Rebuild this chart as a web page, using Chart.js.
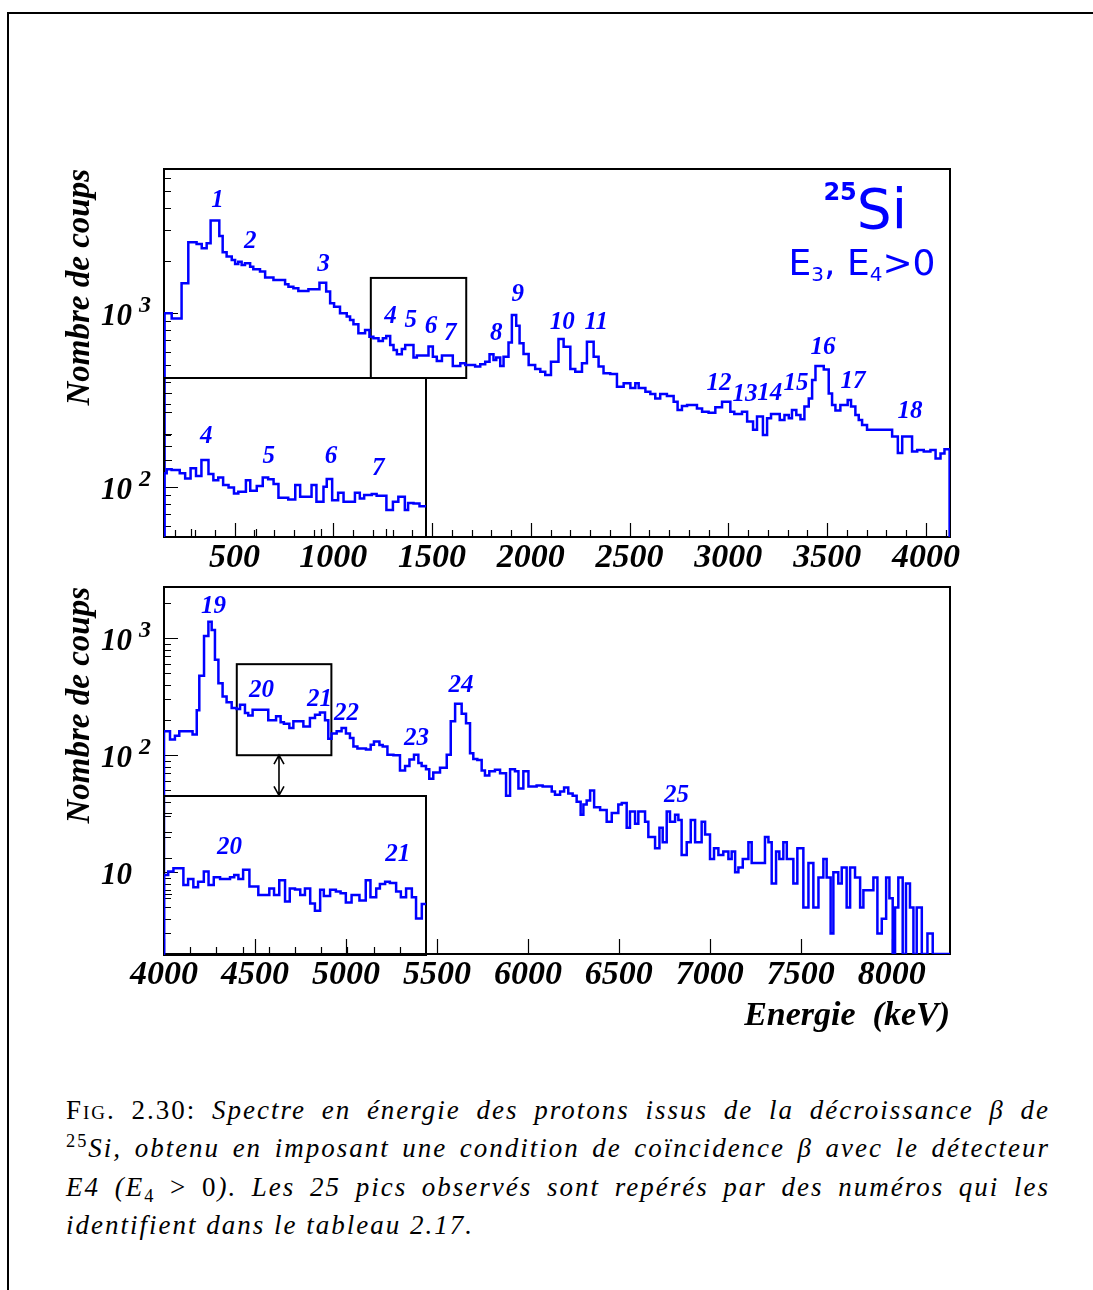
<!DOCTYPE html>
<html>
<head>
<meta charset="utf-8">
<title>Spectre en energie des protons - 25Si</title>
<script src="https://cdn.jsdelivr.net/npm/chart.js@4.4.1/dist/chart.umd.min.js"></script>
<style>
  html, body { margin: 0; padding: 0; background: #fff; }
  body { position: relative; width: 1093px; height: 1290px; overflow: hidden; }
  canvas { position: absolute; }
  #page { position: absolute; left: 7px; top: 12px; width: 1200px; height: 1400px;
          border-left: 2px solid #000; border-top: 2px solid #000; }
  .iso { position: absolute; color: #0000ff; font-family: 'DejaVu Sans', sans-serif;
         text-align: right; white-space: nowrap; }
  .iso span { line-height: 0; }
  #caption { position: absolute; left: 66px; top: 1091px; width: 984px; color: #000;
             font-family: 'Liberation Serif', 'Times New Roman', serif; font-size: 27px; line-height: 38.4px; letter-spacing: 2px; }
  #caption div { height: 38.4px; }
  #caption .j { text-align: justify; text-align-last: justify; }
  #caption sup, #caption sub { line-height: 0; font-size: 68%; }
  .sc { font-variant: small-caps; }
</style>
</head>
<body>
<div id="page"></div>

<canvas id="topChart" style="left:0;top:150px" width="1093" height="420"></canvas>
<canvas id="botChart" style="left:0;top:570px" width="1093" height="480"></canvas>
<canvas id="topInset" style="left:160px;top:374px" width="270" height="167"></canvas>
<canvas id="botInset" style="left:160px;top:792px" width="270" height="167"></canvas>

<div class="iso" style="left:780px;top:181.5px;width:127px;font-size:55px;line-height:55px;"><span style="font-size:24px;font-weight:bold;vertical-align:28px;">25</span>Si</div>
<div class="iso" style="left:700px;top:244.5px;width:235.5px;font-size:36px;line-height:36px;">E<span style="font-size:20px;vertical-align:-6px;">3</span>, E<span style="font-size:20px;vertical-align:-6px;">4</span>&gt;0</div>

<div id="caption">
  <div class="j"><span class="sc">Fig.</span> 2.30: <i>Spectre en énergie des protons issus de la décroissance β de</i></div>
  <div class="j"><sup>25</sup><i>Si, obtenu en imposant une condition de coïncidence β avec le détecteur</i></div>
  <div class="j"><i>E4 (E</i><sub>4</sub> &gt; 0<i>). Les 25 pics observés sont repérés par des numéros qui les</i></div>
  <div><i>identifient dans le tableau 2.17.</i></div>
</div>

<script>
// ---- top panel : bin start (keV) and counts ----
const topEdges = [146, 182, 232, 266, 308, 334, 359, 379, 423, 440, 460, 486, 503, 519, 536, 553, 579, 595, 629, 655,
  697, 756, 773, 798, 823, 874, 930, 964, 984, 1004, 1034, 1068, 1085, 1102, 1127, 1161, 1183, 1203, 1229, 1251,
  1268, 1288, 1305, 1322, 1347, 1364, 1406, 1423, 1482, 1504, 1524, 1550, 1605, 1643, 1668, 1718, 1744, 1769, 1791, 1811,
  1825, 1845, 1862, 1887, 1904, 1926, 1943, 1963, 1989, 2022, 2048, 2073, 2102, 2140, 2166, 2200, 2225, 2259, 2284, 2318,
  2343, 2368, 2402, 2436, 2470, 2504, 2529, 2546, 2580, 2605, 2630, 2655, 2689, 2723, 2743, 2765, 2791, 2841, 2867, 2900,
  2934, 2968, 3010, 3030, 3069, 3095, 3125, 3145, 3175, 3196, 3216, 3260, 3284, 3306, 3322, 3344, 3365, 3385, 3407, 3424,
  3441, 3483, 3508, 3525, 3542, 3567, 3604, 3621, 3643, 3660, 3677, 3702, 3829, 3858, 3880, 3930, 3956, 3989, 4023, 4049,
  4074, 4094];
const topCounts = [995, 931, 1483, 2549, 2493, 2354, 2513, 3394, 2773, 2233, 2109, 2017, 1914, 1972, 1888, 1930, 1846, 1782, 1729, 1597,
  1549, 1462, 1417, 1386, 1337, 1368, 1494, 1327, 1137, 1087, 995, 953, 912, 861, 764, 798, 731, 715, 690, 715,
  738, 655, 613, 579, 621, 655, 554, 569, 641, 561, 530, 569, 495, 514, 503, 492, 507, 525, 579, 537,
  554, 495, 561, 676, 973, 845, 670, 581, 503, 476, 460, 440, 525, 709, 640, 476, 460, 514, 684, 561,
  492, 450, 446, 377, 394, 370, 394, 370, 353, 342, 323, 342, 333, 309, 277, 292, 296, 283, 271, 267,
  287, 309, 271, 263, 271, 238, 213, 254, 199, 248, 263, 243, 259, 248, 277, 259, 245, 290, 323, 412,
  495, 474, 345, 296, 275, 296, 316, 290, 259, 243, 227, 213, 195, 157, 195, 160, 163, 160, 163, 146,
  156, 165];
const topEnd = 4120;

// zoom of 1190-1673 keV
const topInsetEdges = [1190, 1195, 1204, 1219, 1229, 1239, 1249, 1259, 1272, 1281, 1290, 1299, 1309, 1319, 1327, 1341,
  1349, 1361, 1372, 1382, 1392, 1401, 1419, 1432, 1441, 1462, 1471, 1484, 1490, 1500, 1511, 1521, 1542, 1551, 1559,
  1573, 1582, 1600, 1612, 1622, 1634, 1640, 1650, 1661];
const topInsetCounts = [719, 743, 739, 719, 689, 750, 703, 803, 715, 679, 695, 652, 639, 608, 617, 679,
  622, 647, 695, 684, 658, 587, 578, 652, 591, 652, 567, 643, 686, 575, 612, 567, 612, 583, 600,
  605, 596, 530, 567, 591, 530, 562, 559, 547];
const topInsetEnd = 1673;

// ---- bottom panel ----
const botEdges = [4000, 4033, 4060, 4084, 4157, 4180, 4194, 4220, 4244, 4262, 4280, 4299, 4322, 4344, 4372, 4399, 4418, 4445, 4463, 4487,
  4573, 4616, 4641, 4659, 4689, 4711, 4766, 4802, 4830, 4857, 4885, 4903, 4921, 4949, 4976, 5000, 5022, 5041, 5063, 5110,
  5136, 5154, 5184, 5202, 5228, 5261, 5297, 5325, 5349, 5374, 5398, 5416, 5440, 5458, 5480, 5517, 5554, 5576, 5600, 5636,
  5660, 5682, 5700, 5722, 5746, 5764, 5788, 5819, 5847, 5880, 5902, 5929, 5948, 5975, 6003, 6048, 6081, 6131, 6149, 6177,
  6199, 6222, 6246, 6268, 6290, 6305, 6323, 6342, 6364, 6397, 6433, 6461, 6497, 6516, 6543, 6561, 6589, 6607, 6644, 6662,
  6699, 6723, 6741, 6763, 6781, 6809, 6827, 6845, 6873, 6895, 6919, 6955, 6974, 7001, 7023, 7047, 7074, 7102, 7120, 7139,
  7157, 7181, 7212, 7230, 7303, 7322, 7340, 7364, 7382, 7404, 7423, 7459, 7481, 7514, 7542, 7569, 7597, 7624, 7642, 7664,
  7679, 7706, 7725, 7752, 7771, 7798, 7826, 7844, 7899, 7921, 7945, 7969, 7987, 8005, 8018, 8036, 8060, 8078, 8100, 8119,
  8137, 8165, 8196, 8225];
const botCounts = [160, 136, 147, 160, 150, 242, 477, 1046, 1386, 1177, 653, 413, 318, 283, 253, 248, 270, 229, 218, 245,
  199, 215, 191, 186, 171, 195, 176, 208, 222, 232, 199, 138, 153, 160, 171, 153, 140, 119, 114, 112,
  123, 131, 122, 119, 101, 100, 74, 81, 92, 101, 86, 81, 76, 63, 71, 78, 101, 195, 275, 226,
  188, 104, 93, 91, 74, 67, 73, 75, 70, 45, 76, 73, 52, 73, 54, 55, 54, 49, 46, 49,
  53, 47, 45, 40, 31, 38, 41, 50, 36, 34, 27, 32, 38, 39, 24, 33, 26, 33, 27, 20,
  16, 24, 18, 33, 27, 31, 28, 14, 18, 28, 18, 27, 21, 13, 16, 14, 15, 13, 15, 10,
  11, 13, 18, 12, 20, 18, 8, 15, 13, 18, 13, 8, 16, 5, 12, 5, 9, 13, 9, 3,
  10, 8, 11, 5, 11, 9, 5, 7, 9, 3, 4, 9, 6, 0, 5, 9, 0, 8, 5, 0,
  5, 0, 3, 0];
const botEnd = 8320;

// zoom of 4400-4900 keV
const botInsetEdges = [4400, 4408, 4418, 4437, 4446, 4456, 4465, 4476, 4485, 4495, 4507, 4526, 4534, 4542, 4551, 4563,
  4580, 4601, 4610, 4620, 4631, 4640, 4650, 4660, 4669, 4679, 4688, 4698, 4705, 4717, 4728, 4737, 4747, 4758,
  4773, 4785, 4794, 4805, 4812, 4822, 4831, 4843, 4852, 4862, 4873, 4881, 4892];
const botInsetCounts = [247, 257, 267, 221, 236, 215, 229, 257, 221, 241, 236, 241, 247, 236, 262, 217,
  197, 212, 197, 233, 183, 212, 210, 197, 212, 179, 165, 209, 195, 209, 205, 201, 181, 197,
  185, 233, 192, 212, 223, 229, 226, 205, 192, 212, 192, 151, 178];
const botInsetEnd = 4900;

// axis labels
const topXLabels = [500, 1000, 1500, 2000, 2500, 3000, 3500, 4000];
const botXLabels = [4000, 4500, 5000, 5500, 6000, 6500, 7000, 7500, 8000];
const topYLabels = [100, 1000];
const botYLabels = [10, 100, 1000];

// peak numbers (energy, counts at the label)
const topPeakIds = ['1', '2', '3', '4', '5', '6', '7', '8', '9', '10', '11', '12', '13', '14', '15', '16', '17', '18'];
const topPeakE = [414, 579, 951, 1290, 1392, 1495, 1592, 1825, 1934, 2159, 2331, 2952, 3084, 3210, 3342, 3479, 3631, 3920];
const topPeakC = [4406, 2559, 1888, 955, 899, 831, 757, 757, 1269, 877, 877, 394, 342, 344, 394, 630, 401, 270];
const topInsetPeakIds = ['4', '5', '6', '7'];
const topInsetPeakE = [1268, 1383, 1498, 1585];
const topInsetPeakC = [973, 830, 830, 748];
const botPeakIds = ['19', '20', '21', '22', '23', '24', '25'];
const botPeakE = [4272, 4536, 4855, 5003, 5388, 5632, 6817];
const botPeakC = [1866, 359, 298, 226, 140, 392, 45];
const botInsetPeakIds = ['20', '21'];
const botInsetPeakE = [4525, 4846];
const botInsetPeakC = [337, 313];

const BLUE = '#0000ff';
const SERIF = "'Liberation Serif', 'Times New Roman', serif";

// histogram outline: each bin is a flat step, empty bins sit on the axis floor
function hist(edges, counts, end, floor, dropAtEnd) {
  const pts = [{x: edges[0], y: floor}];
  counts.forEach((c, i) => {
    const v = c > 0 ? c : floor;
    const right = i + 1 < edges.length ? edges[i + 1] : end;
    pts.push({x: edges[i], y: v}, {x: right, y: v});
  });
  if (dropAtEnd) pts.push({x: end, y: floor});
  return pts;
}

function logTicks(min, max, major, minor) {
  const out = [];
  for (let d = Math.floor(Math.log10(min)); d <= Math.ceil(Math.log10(max)); d++) {
    for (let m = 1; m <= 9; m++) {
      const v = m * Math.pow(10, d);
      if (v >= min && v <= max) out.push({v: v, len: m === 1 ? major : minor});
    }
  }
  return out;
}

function linTicks(from, to, step, majorStep, major, minor) {
  const out = [];
  for (let v = from; v <= to; v += step) out.push({v: v, len: v % majorStep === 0 ? major : minor});
  return out;
}

function panel(c) {
  return {
    id: 'panel',
    beforeDatasetsDraw(chart) {
      const {ctx, chartArea: a, scales: {x, y}} = chart;
      ctx.save();
      ctx.strokeStyle = '#000';
      ctx.lineWidth = 1.2;
      ctx.beginPath();
      c.xTicks.forEach(t => {
        const px = Math.round(x.getPixelForValue(t.v)) + 0.5;
        ctx.moveTo(px, a.bottom);
        ctx.lineTo(px, a.bottom - t.len);
      });
      c.yTicks.forEach(t => {
        const py = Math.round(y.getPixelForValue(t.v)) + 0.5;
        ctx.moveTo(a.left, py);
        ctx.lineTo(a.left + t.len, py);
      });
      ctx.stroke();
      ctx.lineWidth = 2;
      ctx.strokeRect(a.left, a.top, a.width, a.height);
      if (c.box) {
        const x1 = x.getPixelForValue(c.box[0]), x2 = x.getPixelForValue(c.box[1]);
        const y1 = y.getPixelForValue(c.box[3]), y2 = y.getPixelForValue(c.box[2]);
        ctx.strokeRect(x1, y1, x2 - x1, y2 - y1);
      }
      if (c.arrow) {
        const px = x.getPixelForValue(c.arrow[0]);
        const ya = y.getPixelForValue(c.arrow[1]), yb = y.getPixelForValue(c.arrow[2]);
        ctx.lineWidth = 1.6;
        ctx.beginPath();
        ctx.moveTo(px, ya); ctx.lineTo(px, yb);
        ctx.moveTo(px - 5, ya + 9); ctx.lineTo(px, ya); ctx.lineTo(px + 5, ya + 9);
        ctx.moveTo(px - 5, yb - 9); ctx.lineTo(px, yb); ctx.lineTo(px + 5, yb - 9);
        ctx.stroke();
      }
      ctx.restore();
    },
    afterDatasetsDraw(chart) {
      const {ctx, chartArea: a, scales: {x, y}} = chart;
      ctx.save();
      ctx.fillStyle = BLUE;
      ctx.font = 'italic bold 25px ' + SERIF;
      ctx.textAlign = 'center';
      ctx.textBaseline = 'middle';
      c.peaks.ids.forEach((id, i) => {
        ctx.fillText(id, x.getPixelForValue(c.peaks.e[i]), y.getPixelForValue(c.peaks.c[i]));
      });
      if (c.yLabels) {
        ctx.fillStyle = '#000';
        ctx.textBaseline = 'alphabetic';
        c.yLabels.forEach(v => {
          const py = y.getPixelForValue(v);
          const e = Math.round(Math.log10(v));
          ctx.font = 'italic bold 31px ' + SERIF;
          ctx.textAlign = 'right';
          ctx.fillText('10', a.left - 32, py + 12);
          if (e !== 1) {
            ctx.font = 'italic bold 24px ' + SERIF;
            ctx.textAlign = 'left';
            ctx.fillText(String(e), a.left - 25, py - 1);
          }
        });
      }
      ctx.restore();
    }
  };
}

const tickFont = {family: SERIF, size: 34, style: 'italic', weight: 'bold', lineHeight: 1.2};

function mainChart(id, c) {
  return new Chart(document.getElementById(id), {
    type: 'line',
    data: {datasets: [{data: c.points, borderColor: BLUE, borderWidth: 2.5, pointRadius: 0, tension: 0, fill: false}]},
    options: {
      responsive: false,
      animation: false,
      events: [],
      layout: {padding: c.padding},
      plugins: {legend: {display: false}, tooltip: {enabled: false}},
      scales: {
        x: {
          type: 'linear', min: c.xMin, max: c.xMax,
          afterBuildTicks: s => { s.ticks = c.xTicks.map(t => ({value: t.v})); },
          afterFit: s => { s.height = c.xHeight; },
          grid: {display: false, drawTicks: false},
          border: {display: false},
          ticks: {autoSkip: false, maxRotation: 0, minRotation: 0, padding: 1, color: '#000', font: tickFont,
                  callback: v => c.xLabels.includes(v) ? String(v) : ''},
          title: {display: !!c.xTitle, text: c.xTitle || '', align: 'end', color: '#000',
                  font: {family: SERIF, size: 34, style: 'italic', weight: 'bold', lineHeight: 1.2},
                  padding: {top: 0, bottom: 0}}
        },
        y: {
          type: 'logarithmic', min: c.yMin, max: c.yMax,
          afterFit: s => { s.width = 164; },
          grid: {display: false, drawTicks: false},
          border: {display: false},
          ticks: {display: false},
          title: {display: true, text: 'Nombre de coups', align: 'end', color: '#000',
                  font: {family: SERIF, size: 33, style: 'italic', weight: 'bold', lineHeight: 1.2},
                  padding: {top: 61, bottom: 0}}
        }
      }
    },
    plugins: [panel(c)]
  });
}

function insetChart(id, c) {
  return new Chart(document.getElementById(id), {
    type: 'line',
    data: {datasets: [{data: c.points, borderColor: BLUE, borderWidth: 2.5, pointRadius: 0, tension: 0, fill: false}]},
    options: {
      responsive: false,
      animation: false,
      events: [],
      layout: {padding: 4},
      plugins: {legend: {display: false}, tooltip: {enabled: false}},
      scales: {
        x: {type: 'linear', display: false, min: c.xMin, max: c.xMax},
        y: {type: 'logarithmic', display: false, min: c.yMin, max: c.yMax}
      }
    },
    plugins: [panel(c)]
  });
}

// top panel
const topYMin = 51.6, topYMax = 6720;
mainChart('topChart', {
  points: hist(topEdges, topCounts, topEnd, topYMin, true),
  xMin: 143, xMax: 4122, yMin: topYMin, yMax: topYMax,
  padding: {left: 0, right: 143, top: 19, bottom: 0},
  xHeight: 33,
  xTicks: linTicks(200, 4100, 100, 500, 14, 7),
  yTicks: logTicks(topYMin, topYMax, 14, 7),
  xLabels: topXLabels,
  yLabels: topYLabels,
  box: [1190, 1673, 423, 1590],
  peaks: {ids: topPeakIds, e: topPeakE, c: topPeakC}
});

insetChart('topInset', {
  points: hist(topInsetEdges, topInsetCounts, topInsetEnd, 423, false),
  xMin: 1190, xMax: 1673, yMin: 423, yMax: 1590,
  xTicks: [{v: 1240, len: 8}, {v: 1360, len: 8}, {v: 1480, len: 8}, {v: 1600, len: 8}],
  yTicks: [{v: 800, len: 8}, {v: 900, len: 8}, {v: 1000, len: 8}, {v: 1200, len: 8}, {v: 1400, len: 8}],
  peaks: {ids: topInsetPeakIds, e: topInsetPeakE, c: topInsetPeakC}
});

// bottom panel
const botYMin = 2.0, botYMax = 2740;
mainChart('botChart', {
  points: hist(botEdges, botCounts, botEnd, botYMin, true),
  xMin: 4000, xMax: 8320, yMin: botYMin, yMax: botYMax,
  padding: {left: 0, right: 143, top: 17, bottom: 13},
  xHeight: 83,
  xTicks: linTicks(4000, 8000, 500, 500, 15, 15),
  yTicks: logTicks(botYMin, botYMax, 14, 7),
  xLabels: botXLabels,
  yLabels: botYLabels,
  xTitle: 'Energie  (keV)',
  box: [4400, 4920, 100, 600],
  arrow: [4632, 100, 45.3],
  peaks: {ids: botPeakIds, e: botPeakE, c: botPeakC}
});

insetChart('botInset', {
  points: hist(botInsetEdges, botInsetCounts, botInsetEnd, 100, false),
  xMin: 4400, xMax: 4900, yMin: 100, yMax: 604,
  xTicks: linTicks(4450, 4850, 50, 1000, 8, 8),
  yTicks: [{v: 200, len: 8}, {v: 300, len: 8}, {v: 400, len: 8}, {v: 500, len: 8}],
  peaks: {ids: botInsetPeakIds, e: botInsetPeakE, c: botInsetPeakC}
});
</script>
</body>
</html>
